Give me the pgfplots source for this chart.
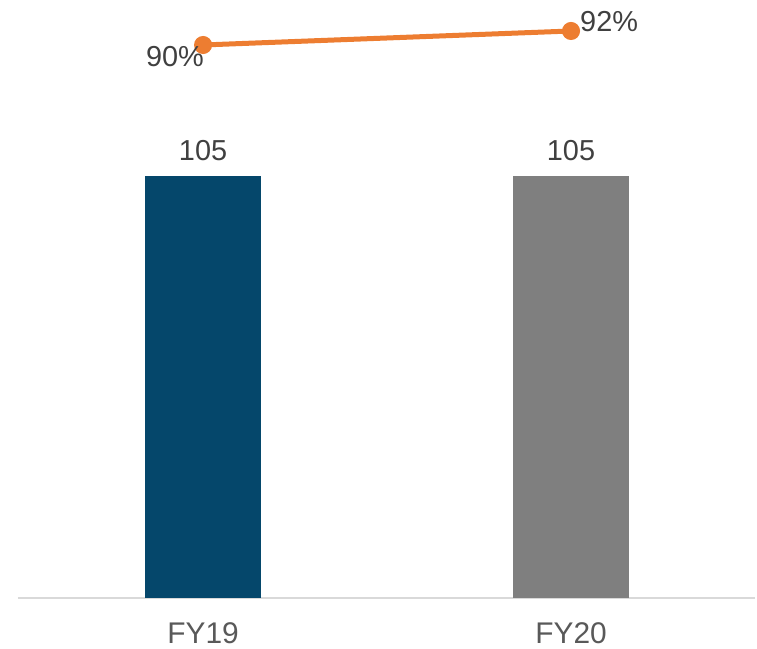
\documentclass[border=0pt]{standalone}
\usepackage{pgfplots}
\pgfplotsset{compat=1.18}
\usepackage{fontspec}
\setmainfont{Liberation Sans}
\definecolor{barblue}{HTML}{05476B}
\definecolor{bargray}{HTML}{7F7F7F}
\definecolor{lineorange}{HTML}{ED7D31}
\definecolor{numtext}{HTML}{404040}
\definecolor{cattext}{HTML}{595959}
\definecolor{axisgray}{HTML}{D9D9D9}
\begin{document}
\begin{tikzpicture}
\begin{axis}[
  at={(0,0)}, anchor=south west,
  scale only axis, width=737bp, height=588bp,
  xmin=-0.503, xmax=1.5, ymin=0, ymax=146.3,
  clip=false,
  /pgf/number format/assume math mode=true,
  axis x line*=bottom, axis y line=none,
  x axis line style={draw=axisgray, line width=1.8bp, -},
  xtick={0,1}, xticklabels={FY19,FY20},
  major tick length=0pt,
  xticklabel style={anchor=north, inner sep=0pt, yshift=-24bp, font=\fontsize{30}{34}\selectfont, text=cattext},
  ybar, bar width=116bp, bar shift=0pt,
  nodes near coords,
  every node near coord/.append style={anchor=south, inner sep=0pt, yshift=15bp, font=\fontsize{29}{33}\selectfont, text=numtext},
]
\addplot[fill=barblue, draw=none] coordinates {(0,105)};
\addplot[fill=bargray, draw=none] coordinates {(1,105)};
\end{axis}
\begin{axis}[
  at={(0,0)}, anchor=south west,
  scale only axis, width=737bp, height=588bp,
  xmin=-0.503, xmax=1.5, ymin=11, ymax=95,
  clip=false, hide axis,
]
\addplot[lineorange, line width=5bp, mark=*, mark size=6.5bp, mark options={fill=lineorange, draw=lineorange}] coordinates {(0,90) (1,92)};
\addplot[draw=none, nodes near coords, point meta=explicit symbolic,
  every node near coord/.append style={anchor=north east, inner sep=0pt, xshift=1bp, yshift=-1bp, font=\fontsize{29}{33}\selectfont, text=numtext}]
  coordinates {(0,90) [90\%]};
\addplot[draw=none, nodes near coords, point meta=explicit symbolic,
  every node near coord/.append style={anchor=south west, inner sep=0pt, xshift=9bp, yshift=-1bp, font=\fontsize{29}{33}\selectfont, text=numtext}]
  coordinates {(1,92) [92\%]};
\end{axis}
\path[use as bounding box] (-18bp,-51bp) rectangle (739bp,598bp);
\end{tikzpicture}
\end{document}
